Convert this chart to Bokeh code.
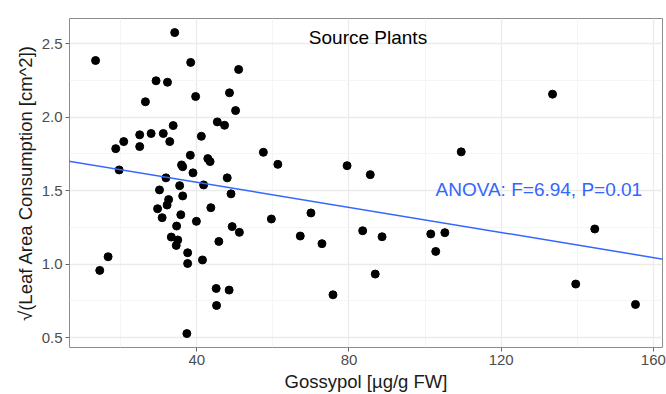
from bokeh.plotting import figure
from bokeh.models import Range1d, FixedTicker, Label, Slope, PrintfTickFormatter, ColumnDataSource
from bokeh.embed import file_html
from bokeh.resources import INLINE

# ---- data ----
gossypol = [13.4, 34.2, 38.4, 29.3, 32.3, 26.5, 39.7, 48.6, 51.0, 50.2,
            45.4, 47.3, 41.2, 33.8, 18.7, 20.8, 25.0, 25.0, 28.0, 31.2,
            32.9, 19.6, 36.0, 36.3, 38.3, 39.0, 42.9, 43.5, 31.9, 35.5,
            41.8, 48.0, 30.2, 36.3, 32.6, 32.2, 49.0, 29.7, 30.9, 35.8,
            34.7, 39.9, 43.7, 33.3, 35.0, 34.6, 37.6, 37.6, 41.5, 45.8,
            16.7, 14.5, 45.1, 48.5, 45.2, 37.4, 49.3, 51.2, 57.5, 61.3,
            79.5, 85.6, 59.6, 70.0, 67.2, 72.9, 83.6, 88.7, 86.9, 75.8,
            101.5, 105.2, 102.8, 144.6, 139.6, 155.3, 133.5, 109.5]
sqrt_consumption = [2.386, 2.576, 2.373, 2.248, 2.238, 2.105, 2.141, 2.166, 2.325, 2.045,
                    1.968, 1.945, 1.870, 1.943, 1.786, 1.834, 1.880, 1.800, 1.889, 1.889,
                    1.834, 1.641, 1.675, 1.663, 1.741, 1.621, 1.718, 1.698, 1.587, 1.534,
                    1.539, 1.587, 1.505, 1.464, 1.439, 1.402, 1.478, 1.377, 1.316, 1.336,
                    1.259, 1.291, 1.384, 1.184, 1.164, 1.127, 1.077, 1.004, 1.028, 1.154,
                    1.050, 0.957, 0.834, 0.823, 0.718, 0.527, 1.255, 1.216, 1.761, 1.679,
                    1.670, 1.609, 1.307, 1.348, 1.191, 1.139, 1.227, 1.186, 0.932, 0.791,
                    1.205, 1.214, 1.086, 1.239, 0.864, 0.725, 2.157, 1.764]
fit_slope = -0.004274
fit_intercept = 1.728
x_ticks = [40, 80, 120, 160]
x_minor = [20, 60, 100, 140]
y_ticks = [0.5, 1.0, 1.5, 2.0, 2.5]
y_minor = [0.75, 1.25, 1.75, 2.25]
panel_title = "Source Plants"
anova_text = "ANOVA: F=6.94, P=0.01"
x_title = "Gossypol [µg/g FW]"
y_title = "√(Leaf Area Consumption [cm^2])"

FONT = "Liberation Sans"
BLUE = "#3366FF"

p = figure(width=666, height=394, output_backend="svg", toolbar_location=None,
           x_range=Range1d(6.55, 162.4), y_range=Range1d(0.432, 2.672),
           min_border_left=69, min_border_right=4, min_border_top=18, min_border_bottom=47)
p.background_fill_color = "white"
p.border_fill_color = "white"
p.outline_line_color = "#8c8c8c"
p.outline_line_width = 1

p.xaxis.ticker = FixedTicker(ticks=x_ticks, minor_ticks=x_minor)
p.yaxis.ticker = FixedTicker(ticks=y_ticks, minor_ticks=y_minor)
p.yaxis.formatter = PrintfTickFormatter(format="%.1f")

for ax in (p.xaxis, p.yaxis):
    ax.axis_line_color = None
    ax.major_tick_line_color = "#666666"
    ax.major_tick_out = 4
    ax.major_tick_in = 0
    ax.minor_tick_line_color = None
    ax.major_label_text_font = FONT
    ax.major_label_text_font_size = "15px"
    ax.major_label_text_color = "#4D4D4D"
    ax.major_label_standoff = 3
    ax.axis_label_text_font = FONT
    ax.axis_label_text_font_size = "18.5px"
    ax.axis_label_text_font_style = "normal"
    ax.axis_label_text_color = "#1a1a1a"
    ax.axis_label_standoff = 3

p.xaxis.axis_label = x_title
p.yaxis.axis_label = y_title

p.xgrid.grid_line_color = "#EBEBEB"
p.ygrid.grid_line_color = "#EBEBEB"
p.xgrid.grid_line_width = 1.3
p.ygrid.grid_line_width = 1.3
p.xgrid.minor_grid_line_color = "#F3F3F3"
p.ygrid.minor_grid_line_color = "#F3F3F3"
p.xgrid.minor_grid_line_width = 0.8
p.ygrid.minor_grid_line_width = 0.8

src = ColumnDataSource(dict(x=gossypol, y=sqrt_consumption))
p.scatter("x", "y", source=src, size=8, fill_color="black", line_color="black")

p.add_layout(Slope(gradient=fit_slope, y_intercept=fit_intercept,
                   line_color=BLUE, line_width=1.5))

p.add_layout(Label(x=85.0, y=2.54, text=panel_title, text_align="center",
                   text_baseline="middle", text_font=FONT, text_font_size="19px",
                   text_color="black"))
p.add_layout(Label(x=129.9, y=1.507, text=anova_text, text_align="center",
                   text_baseline="middle", text_font=FONT, text_font_size="19px",
                   text_color=BLUE))

open("out.html", "w").write(file_html(p, INLINE))
